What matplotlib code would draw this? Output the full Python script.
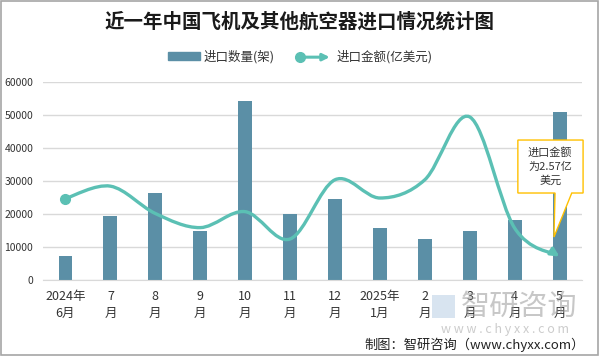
import matplotlib
matplotlib.use("Agg")
import matplotlib.pyplot as plt
from matplotlib.path import Path
from matplotlib.patches import FancyArrowPatch, Polygon, Rectangle
from matplotlib.legend_handler import HandlerBase
from matplotlib.lines import Line2D

plt.rcParams['font.family'] = ['Noto Sans CJK SC', 'DejaVu Sans']

months = ["2024年\n6月", "7\n月", "8\n月", "9\n月", "10\n月", "11\n月", "12\n月",
          "2025年\n1月", "2\n月", "3\n月", "4\n月", "5\n月"]
quantity = [7300, 19400, 26400, 14900, 54300, 20000, 24600, 15800, 12400, 14900, 18200, 51000]
amount = [8.94, 10.3, 7.3, 5.75, 7.5, 4.5, 11.0, 9.0, 11.0, 17.9, 5.7, 2.57]

bar_color = "#5B8FA6"
line_color = "#5BC0B4"

fig = plt.figure(figsize=(6, 3.56), dpi=100)
ax = fig.add_axes([0.0717, 0.2135, 0.8983, 0.5553])
ax2 = ax.twinx()

x = list(range(len(months)))
ax.bar(x, quantity, width=0.31, color=bar_color, zorder=2)
ax.set_ylim(0, 60000)
ax.set_xlim(-0.5, len(months) - 0.5)
ax.set_yticks(range(0, 60001, 10000))
ax.yaxis.grid(True, color="#D9D9D9", lw=1)
ax.set_axisbelow(True)
for s in ["top", "right", "left"]:
    ax.spines[s].set_visible(False)
ax.spines["bottom"].set_color("#D9D9D9")
ax.tick_params(length=0, colors="#333333")
ax.tick_params(axis="y", pad=7, labelsize=7.5)
ax.set_xticks(x)
ax.set_xticklabels(months, fontsize=9, linespacing=1.45)
ax.tick_params(axis="x", pad=7)

# smoothed line (catmull-rom -> cubic bezier), like excel
ax2.set_ylim(0, 21.7)
ax2.axis("off")
pts = list(zip(x, amount))
verts = [pts[0]]
codes = [Path.MOVETO]
n = len(pts)
for i in range(n - 1):
    p0 = pts[i - 1] if i > 0 else pts[i]
    p1 = pts[i]
    p2 = pts[i + 1]
    p3 = pts[i + 2] if i + 2 < n else pts[i + 1]
    c1 = (p1[0] + (p2[0] - p0[0]) / 6, p1[1] + (p2[1] - p0[1]) / 6)
    c2 = (p2[0] - (p3[0] - p1[0]) / 6, p2[1] - (p3[1] - p1[1]) / 6)
    verts += [c1, c2, p2]
    codes += [Path.CURVE4] * 3
curve = FancyArrowPatch(path=Path(verts, codes), arrowstyle="-|>", mutation_scale=12,
                        color=line_color, lw=2.4, transform=ax2.transData, zorder=3)
ax2.add_patch(curve)
ax2.plot(x[0], amount[0], "o", color=line_color, ms=7, zorder=4)


class LineArrowHandler(HandlerBase):
    def create_artists(self, legend, orig, xd, yd, w, h, fontsize, trans):
        y = yd + h / 2
        arr = FancyArrowPatch((xd, y), (xd + w, y), arrowstyle="-|>", mutation_scale=10,
                              color=line_color, lw=2.2, transform=trans)
        dot = Line2D([xd], [y], marker="o", ms=7, color=line_color, transform=trans)
        return [arr, dot]


bar_handle = Rectangle((0, 0), 1, 1, color=bar_color)
line_handle = Line2D([], [], color=line_color)
fig.legend([bar_handle, line_handle], ["进口数量(架)", "进口金额(亿美元)"],
           loc="center", bbox_to_anchor=(0.5, 0.84), ncol=2, frameon=False,
           fontsize=9, handlelength=2.6, handleheight=0.6, columnspacing=2.0,
           handletextpad=0.3, labelcolor="#333333",
           handler_map={Line2D: LineArrowHandler()})

fig.text(0.5, 0.938, "近一年中国飞机及其他航空器进口情况统计图", ha="center", va="center",
         fontsize=14, fontweight="bold", color="#1a1a1a")

# callout
box = [(0.881, 0.708), (1.002, 0.708), (1.002, 0.44), (0.981, 0.44),
       (0.948, 0.2175), (0.950, 0.44), (0.881, 0.44)]
ax.add_patch(Polygon(box, closed=True, transform=ax.transAxes, facecolor="white",
                     edgecolor="#FFC000", lw=1, zorder=5, clip_on=False))
ax.text(0.941, 0.574, "进口金额\n为2.57亿\n美元", transform=ax.transAxes, ha="center",
        va="center", fontsize=8, linespacing=1.45, color="#333333", zorder=6)

# watermark
fig.add_artist(Rectangle((432 / 600, 1 - 318 / 356), 23 / 600, 23 / 356,
                         facecolor="#BFD3E6", edgecolor="none", alpha=0.6))
fig.text(519 / 600, 1 - 307 / 356, "智研咨询", ha="center", va="center", fontsize=21,
         color="#9A9A9A", alpha=0.55)
fig.text(505 / 600, 1 - 329 / 356, "w w w . c h y x x . c o m", ha="center", va="center",
         fontsize=9, color="#AAAAAA", alpha=0.6)
fig.text(585 / 600, 1 - 345 / 356, "制图：智研咨询（www.chyxx.com）", ha="right", va="center",
         fontsize=9.5, color="#222222")

fig.add_artist(Rectangle((0.001, 0.002), 0.995, 0.996, transform=fig.transFigure,
                         fill=False, edgecolor="#A6A6A6", lw=1.2))

fig.savefig("out.png", dpi=100)
